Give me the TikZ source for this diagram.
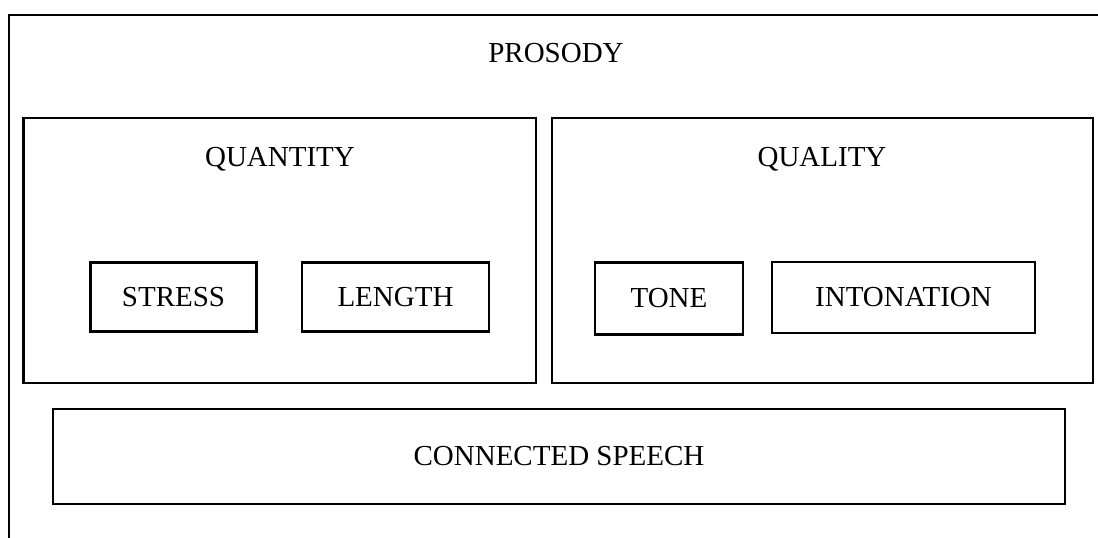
\documentclass[tikz,border=0pt]{standalone}
\usepackage{fontspec}
\setmainfont{Liberation Serif}
\begin{document}
\begin{tikzpicture}[x=1pt,y=-1pt,
  box/.style={draw=black, line width=2.4pt},
  lbl/.style={font=\fontsize{29}{34}\selectfont, inner sep=0pt}]
\useasboundingbox (0,0) rectangle (1098,538);
\begin{scope}
\clip (0,0) rectangle (1098,538);
\draw[box] (9,15) rectangle (1120,560);
\end{scope}
\node[lbl] (prosody) at (556,53) {PROSODY};
% quantity
\draw[box] (23.5,118) rectangle (536,383);
\node[lbl] (quantity) at (280,159) {QUANTITY};
\node[box, minimum width=166pt, minimum height=69pt, inner sep=0pt, lbl] (stress) at (173.5,297) {STRESS};
\node[box, minimum width=187pt, minimum height=69pt, inner sep=0pt, lbl] (length) at (395.5,297) {LENGTH};
% quality
\draw[box] (552,118) rectangle (1093,383);
\node[lbl] (quality) at (822,159) {QUALITY};
\node[box, minimum width=148pt, minimum height=72pt, inner sep=0pt, lbl] (tone) at (669,298.5) {TONE};
\node[box, minimum width=263pt, minimum height=71pt, inner sep=0pt, lbl] (inton) at (903.5,297.5) {INTONATION};
% connected speech
\node[box, minimum width=1012pt, minimum height=95pt, inner sep=0pt, lbl] (cs) at (559,456.5) {CONNECTED SPEECH};
\end{tikzpicture}
\end{document}
